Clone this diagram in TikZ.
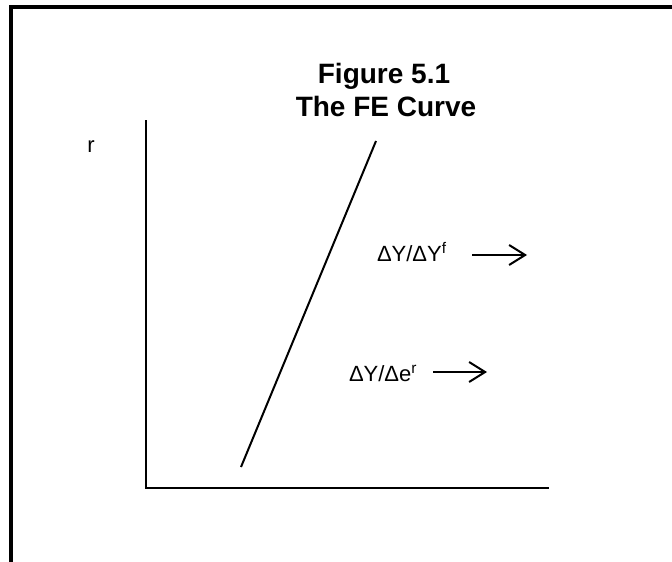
\documentclass[tikz,border=0pt]{standalone}
\usepackage{fontspec}
\setmainfont{Liberation Sans}
\usetikzlibrary{arrows.meta,positioning}
\definecolor{InkBlack}{HTML}{000000}

\begin{document}
\begin{tikzpicture}[x=1pt,y=-1pt,line width=2pt,InkBlack,
    shiftarrow/.style={-{Straight Barb[length=16pt,width=20pt]}},
    ttl/.style={anchor=base,inner sep=0pt,font=\bfseries\fontsize{28}{33}\selectfont},
    lbl/.style={anchor=base west,inner sep=0pt,font=\fontsize{22}{26}\selectfont}]
  \useasboundingbox (0,0) rectangle (672,562);
  % frame: only its top and left sides are on the page
  \draw[line width=4.3pt,line join=miter] (672,7) -| (11,562);
  % title
  \node[ttl] (title) at (384,83) {Figure 5.1};
  \node[ttl] (subtitle) at (386,116) {The FE Curve};
  % axes
  \coordinate (ytop) at (146,120);
  \coordinate (orig) at (146,488);
  \coordinate (xend) at (549,488);
  \draw[line join=miter] (ytop) -- (orig) -- (xend);
  \node[font=\fontsize{22}{26}\selectfont] (rlab) at (91,147) {r};
  % FE curve
  \coordinate (fe0) at (241,467);
  \coordinate (fe1) at (376,141);
  \draw (fe0) -- (fe1);
  % shifts
  \node[lbl] (dyf) at (376,261) {ΔY/ΔY\textsuperscript{f}};
  \node[lbl] (dye) at (348,381) {ΔY/Δe\textsuperscript{r}};
  \coordinate (af0) at (472,255);
  \coordinate (af1) at (527,255);
  \coordinate (ae0) at (433,372);
  \coordinate (ae1) at (487,372);
  \draw[shiftarrow] (af0) -- (af1);
  \draw[shiftarrow] (ae0) -- (ae1);
\end{tikzpicture}
\end{document}
